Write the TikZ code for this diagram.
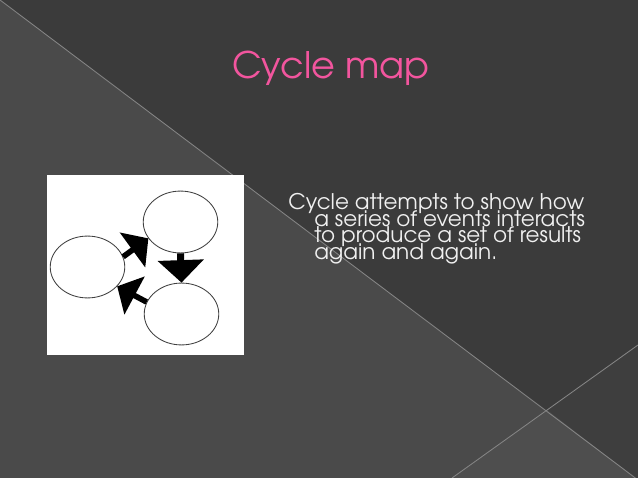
\documentclass[tikz,border=0pt]{standalone}
\usepackage{fontspec}
\setmainfont{texgyreadventor-regular.otf}
\usetikzlibrary{shapes.geometric, arrows.meta}
\definecolor{slidedark}{HTML}{3B3B3B}
\definecolor{slidedarkb}{HTML}{3E3E3E}
\definecolor{slidelight}{HTML}{4A4A4A}
\definecolor{slidelightb}{HTML}{4E4E4E}
\definecolor{slideline}{HTML}{858585}
\definecolor{titlepink}{HTML}{F2559E}
\setlength{\lineskiplimit}{-20pt}

\begin{document}
\begin{tikzpicture}[x=0.025cm, y=-0.025cm, main/.style={draw=black!75, ellipse, minimum width=53pt, minimum height=44pt, inner sep=0pt, line width=0.6pt, fill=white}, n/.style={-{Triangle[length=14pt, width=30pt]}, line width=4pt}, edge/.style={draw=slideline, line width=0.6pt}]
            % background
            \useasboundingbox (0,0) rectangle (638,478);
            \clip (0,0) rectangle (638,478);
            \fill[slidelight] (0,0) rectangle (638,478);
            \fill[slidedark] (0,0) -- (638,0) -- (638,480) -- cycle;
            \fill[slidedarkb] (547,410) -- (638,345) -- (638,480) -- cycle;
            \fill[slidelightb] (547,410) -- (638,480) -- (452,478) -- cycle;
            \draw[edge] (0,0) -- (638,480);
            \draw[edge] (638,345) -- (452,478);
            % title
            \node[anchor=base, inner sep=0pt, text=titlepink, font=\fontsize{26}{30}\selectfont] (title) at (331,79) {Cycle map};
            % picture
            \fill[white] (47,175) rectangle (244,355);
            % nodes
            \node[main] (e1) at (180.5,222) {};
            \node[main] (e2) at (181.5,314) {};
            \node[main] (e3) at (87.5,267) {};
            % edges
            \draw[n] (e3.16) -- (e1.207);
            \draw[-{Triangle[length=16pt, width=32pt]}, line width=5pt] (e1.south) -- (e2.north);
            \draw[n] (e2.161) -- (e3.327);
            % text
            \node[anchor=north west, inner sep=0pt, align=left, text=white!94!black, font=\fontsize{15.3}{11.9}\selectfont] (body) at (288,193) {Cycle attempts to show how\\
                \hspace*{18.5pt}a series of events interacts\\
                \hspace*{18.5pt}to produce a set of results\\
                \hspace*{18.5pt}again and again.};
        \end{tikzpicture}
\end{document}
